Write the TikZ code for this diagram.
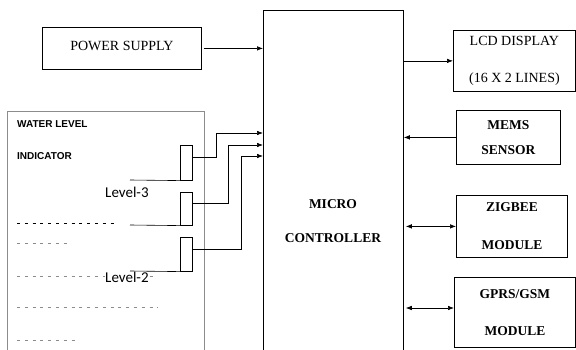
\documentclass[tikz,border=0pt]{standalone}
\usepackage{fontspec}
\setmainfont{Liberation Serif}
\newfontfamily\sansfont{Liberation Sans}
\newfontfamily\levelfont{Carlito}
\usetikzlibrary{arrows.meta,positioning}

\begin{document}
\begin{tikzpicture}[
  x=1pt,y=-1pt,
  blk/.style={rectangle,draw,line width=0.8pt,inner sep=0pt,anchor=north west,align=center,font=\fontsize{14}{15}\selectfont},
  bblk/.style={blk,font=\fontsize{13.5}{15}\selectfont\bfseries},
  sbox/.style={rectangle,draw,line width=0.6pt,inner sep=0pt,anchor=north west,minimum width=12pt},
  wire/.style={line width=0.6pt},
  arrow/.style={-{Latex[length=6pt,width=4.5pt]},line width=0.6pt},
  darrow/.style={{Latex[length=6pt,width=4.5pt]}-{Latex[length=6pt,width=4.5pt]},line width=0.6pt},
  wtxt/.style={font=\sansfont\fontsize{10}{12}\selectfont\bfseries,anchor=west,inner sep=0pt},
  lvl/.style={font=\levelfont\fontsize{15}{16}\selectfont,anchor=west,inner sep=0pt},
  tick/.style={line width=0.6pt,dash pattern=on 3pt off 4.8pt}
]
  \useasboundingbox (0,0) rectangle (576,350);

  % Controller
  \node[blk,minimum width=140pt,minimum height=342pt] (mc) at (263,10) {};
  \node[font=\fontsize{13.5}{15}\selectfont\bfseries,align=center] (mctxt) at (333,221) {MICRO\\[19pt]CONTROLLER};

  % Left side
  \node[blk,minimum width=159pt,minimum height=42pt] (ps) at (42,27) {\raisebox{6pt}{POWER SUPPLY}};
  \node[rectangle,draw=black!45,line width=0.6pt,anchor=north west,minimum width=197pt,minimum height=241pt] (wl) at (7,111) {};
  \node[wtxt] (wl1) at (17,124) {WATER LEVEL};
  \node[wtxt] (wl2) at (17,156) {INDICATOR};

  % Level marks
  \draw[tick] (17,223) -- (118,223);
  \draw[tick,black!45] (17,243) -- (70,243);
  \draw[tick,black!45] (17,276) -- (155,276);
  \draw[tick,black!45] (17,307) -- (158,307);
  \draw[tick,black!45] (17,340) -- (79,340);
  \node[lvl] (l3) at (105,192) {Level-3};
  \node[lvl,fill=white] (l2) at (105,277) {Level-2};

  % Level sensors
  \node[sbox,minimum height=35pt] (s1) at (180,145) {};
  \node[sbox,minimum height=33pt] (s2) at (180,192) {};
  \node[sbox,minimum height=34pt] (s3) at (180,237) {};
  \coordinate (p1) at (130,180);
  \coordinate (p2) at (130,225);
  \coordinate (p3) at (130,271);
  \draw[wire] (p1) -- (s1.south west);
  \draw[wire] (p2) -- (s2.south west);
  \draw[wire] (p3) -- (s3.south west);

  % Right side
  \node[blk,minimum width=122pt,minimum height=61pt] (lcd) at (453,30) {LCD DISPLAY\\[22pt](16 X 2 LINES)};
  \node[bblk,minimum width=104pt,minimum height=54pt] (mems) at (456,110) {MEMS\\[10pt]SENSOR};
  \node[bblk,minimum width=111pt,minimum height=62pt] (zb) at (456,195) {ZIGBEE\\[23pt]MODULE};
  \node[bblk,minimum width=121pt,minimum height=70pt] (gsm) at (454,277) {GPRS/GSM\\[22pt]MODULE};

  % Inputs of controller
  \coordinate (in1) at (263,133);
  \coordinate (in2) at (263,145);
  \coordinate (in3) at (263,156);

  % Arrows
  \draw[arrow] ([xshift=2pt]ps.east) -- (mc.west |- ps.east);
  \draw[arrow] ([yshift=5pt]s1.east) -| (216,133) -- (in1);
  \draw[arrow] ([yshift=5pt]s2.east) -| (228,145) -- (in2);
  \draw[arrow] ([yshift=5pt]s3.east) -| (241,156) -- (in3);
  \draw[arrow] (mc.east |- lcd.west) -- (lcd.west);
  \draw[arrow] (mems.west) -- (mc.east |- mems.west);
  \draw[darrow] ([xshift=2pt]mc.east |- zb.west) -- (zb.west);
  \draw[darrow] ([xshift=2pt]mc.east |- 0,308) -- (gsm.west |- 0,308);
\end{tikzpicture}
\end{document}
